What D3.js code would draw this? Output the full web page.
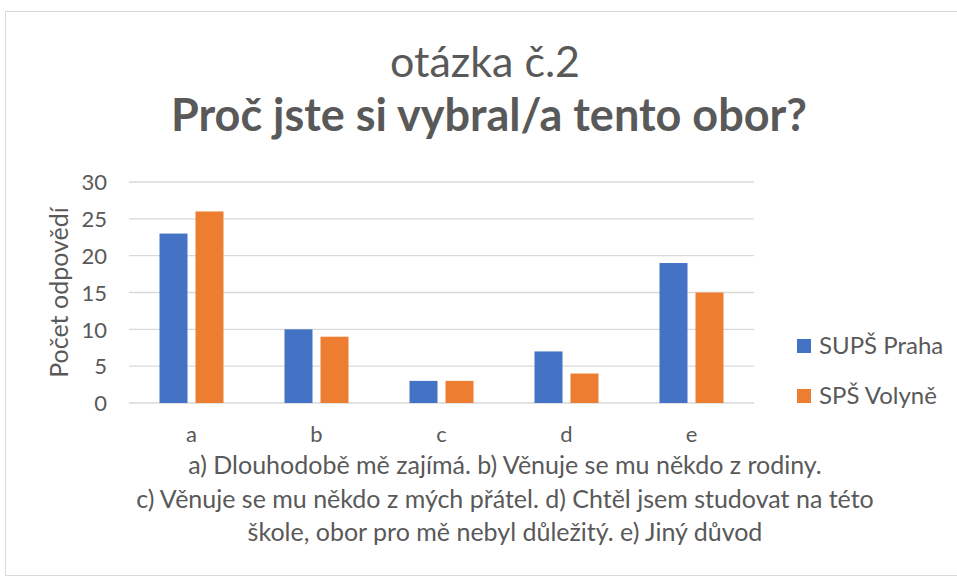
<!DOCTYPE html>
<html>
<head>
<meta charset="utf-8">
<script src="https://cdn.jsdelivr.net/npm/d3@7"></script>
<style>
  html, body { margin: 0; padding: 0; background: #fff; }
  svg { display: block; }
  text { font-family: Lato, "Open Sans", sans-serif; fill: #595959; }
</style>
</head>
<body>
<script>
const categories = ["a", "b", "c", "d", "e"];
const seriesNames = ["SUPŠ Praha", "SPŠ Volyně"];
const supsPraha = [23, 10, 3, 7, 19];
const spsVolyne = [26, 9, 3, 4, 15];
const yTicks = [0, 5, 10, 15, 20, 25, 30];
const titleLine1 = "otázka č.2";
const titleLine2 = "Proč jste si vybral/a tento obor?";
const yAxisTitle = "Počet odpovědí";
const notes = [
  "a) Dlouhodobě mě zajímá. b) Věnuje se mu někdo z rodiny.",
  "c) Věnuje se mu někdo z mých přátel. d) Chtěl jsem studovat na této",
  "škole, obor pro mě nebyl důležitý. e) Jiný důvod"
];
const colors = ["#4472C4", "#ED7D31"];
const series = [supsPraha, spsVolyne];

const W = 957, H = 580;
const svg = d3.select("body").append("svg").attr("width", W).attr("height", H);

// chart border
svg.append("rect").attr("x", 5.5).attr("y", 11.5).attr("width", W + 10).attr("height", H - 16)
  .attr("fill", "#fff").attr("stroke", "#D9D9D9").attr("stroke-width", 1);

const pLeft = 129, pRight = 754, pTop = 182, pBottom = 403;
const x = d3.scaleBand().domain(categories).range([pLeft, pRight]);
const y = d3.scaleLinear().domain([0, 30]).range([pBottom, pTop]);

// gridlines
svg.append("g").selectAll("line").data(yTicks).join("line")
  .attr("x1", pLeft).attr("x2", pRight)
  .attr("y1", d => y(d)).attr("y2", d => y(d))
  .attr("stroke", "#D9D9D9").attr("stroke-width", 1.3);

// y axis labels
const yAxis = d3.axisLeft(y).tickValues(yTicks).tickSize(0).tickPadding(0);
const gy = svg.append("g").attr("transform", `translate(${pLeft - 22},0)`).call(yAxis);
gy.select(".domain").remove();
gy.selectAll("text").attr("font-size", 22).attr("fill", "#595959")
  .style("font-family", "Lato, 'Open Sans', sans-serif").attr("dy", "0.35em");

// x axis labels
const xAxis = d3.axisBottom(x).tickSize(0).tickPadding(0);
const gx = svg.append("g").attr("transform", `translate(0,${pBottom + 39})`).call(xAxis);
gx.select(".domain").remove();
gx.selectAll("text").attr("font-size", 22).attr("fill", "#595959")
  .style("font-family", "Lato, 'Open Sans', sans-serif").attr("dy", "0");

// bars
const barW = 28, gap = 8;
const xs = d3.scaleBand().domain(seriesNames).range([0, 2 * barW + gap]).paddingInner(gap / (barW + gap));
series.forEach((vals, si) => {
  svg.append("g").selectAll("rect").data(vals).join("rect")
    .attr("x", (d, i) => x(categories[i]) + x.bandwidth() / 2 - (2 * barW + gap) / 2 + xs(seriesNames[si]))
    .attr("width", xs.bandwidth())
    .attr("y", d => y(d))
    .attr("height", d => y(0) - y(d))
    .attr("fill", colors[si]);
});

// titles
svg.append("text").attr("x", 485).attr("y", 77).attr("text-anchor", "middle")
  .attr("font-size", 43).text(titleLine1);
svg.append("text").attr("x", 489).attr("y", 131).attr("text-anchor", "middle")
  .attr("font-size", 45).attr("font-weight", "bold").text(titleLine2);

// y axis title
svg.append("text").attr("transform", `translate(68,${(pTop + pBottom) / 2 - 0}) rotate(-90)`)
  .attr("text-anchor", "middle").attr("font-size", 25).text(yAxisTitle);

// legend
const lg = svg.append("g");
seriesNames.forEach((n, i) => {
  const ly = 346 + i * 50;
  lg.append("rect").attr("x", 797).attr("y", ly - 7).attr("width", 14).attr("height", 14).attr("fill", colors[i]);
  lg.append("text").attr("x", 819).attr("y", ly + 8).attr("font-size", 24).text(n);
});

// notes
svg.append("g").selectAll("text").data(notes).join("text")
  .attr("x", 505).attr("y", (d, i) => 474 + i * 33.5).attr("text-anchor", "middle")
  .attr("font-size", 25).text(d => d);
</script>
</body>
</html>
